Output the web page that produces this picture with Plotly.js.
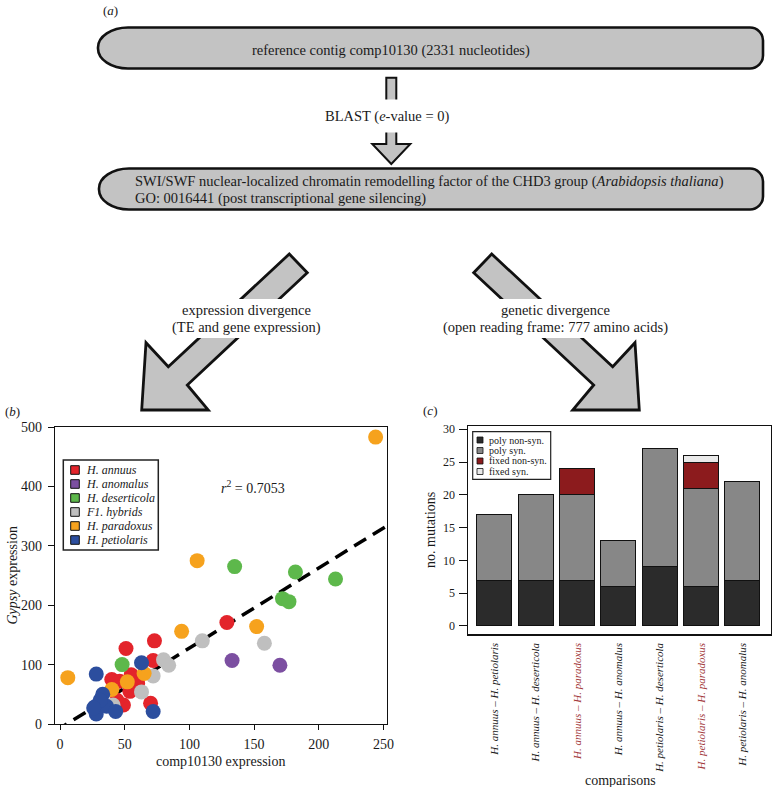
<!DOCTYPE html>
<html><head><meta charset="utf-8">
<script src="https://cdn.plot.ly/plotly-3.0.1.min.js"></script>
<style>html,body{margin:0;padding:0;background:#fff}</style>
</head><body><div id="chart" style="width:773px;height:787px"></div>
<script>
// ---------- panel (b) data ----------
const species = ["H. annuus","H. anomalus","H. deserticola","F1. hybrids","H. paradoxus","H. petiolaris"];
const speciesColors = ["#e3242b","#7c4fa1","#5db84b","#bfbfbf","#f6a21d","#2c4e9e"];
const annuusX = [129, 73, 51, 72, 40, 55, 58, 54, 70, 49, 44, 46, 60];
const annuusY = [171, 140, 127, 107, 75, 83, 76, 55, 35, 32, 40, 72, 68];
const anomalusX = [133, 170];
const anomalusY = [107, 99];
const deserticolaX = [48, 135, 182, 213, 172, 177];
const deserticolaY = [100, 265, 256, 244, 211, 206];
const hybridsX = [110, 158, 80, 84, 72, 63, 41];
const hybridsY = [140, 136, 108, 99, 81, 54, 32];
const paradoxusX = [244, 106, 94, 152, 6, 52, 65, 40];
const paradoxusY = [483, 275, 156, 164, 78, 71, 85, 58];
const petiolarisX = [63, 28, 33, 27, 28, 36, 43, 72, 31, 26];
const petiolarisY = [103, 84, 50, 29, 17, 30, 21, 21, 40, 27];
const fitLineX = [-4, 253];
const fitLineY = [-12.4, 334];
const r2Value = "0.7053";
const expTicksX = [0, 50, 100, 150, 200, 250];
const expTicksY = [0, 100, 200, 300, 400, 500];

// ---------- panel (c) data ----------
const comparisons = ["H. annuus – H. petiolaris","H. annuus – H. deserticola","H. annuus – H. paradoxus",
  "H. annuus – H. anomalus","H. petiolaris – H. deserticola","H. petiolaris – H. paradoxus","H. petiolaris – H. anomalus"];
const highlighted = [false, false, true, false, false, true, false];
const polyNonSyn = [7, 7, 7, 6, 9, 6, 7];
const polySyn = [10, 13, 13, 7, 18, 15, 15];
const fixedNonSyn = [0, 0, 4, 0, 0, 4, 0];
const fixedSyn = [0, 0, 0, 0, 0, 1, 0];
const mutationSeries = ["poly non-syn.","poly syn.","fixed non-syn.","fixed syn."];
const mutationColors = ["#2b2b2b","#878787","#8c1b1d","#e9e9e9"];
const mutationTicks = [0, 5, 10, 15, 20, 25, 30];

// ---------- helpers ----------
const W = 773, H = 787;
const F = "Liberation Serif, Times New Roman, serif";
const TXT = "#1a1a1a";
const X = v => v / W, Y = v => 1 - v / H;
function ann(text, x, y, o) {
  o = o || {};
  const font = Object.assign({family: F, size: 14, color: TXT}, o.font || {});
  const a = Object.assign({text, xref: 'paper', yref: 'paper', x: X(x), y: Y(y), showarrow: false,
    xanchor: 'center', yanchor: 'middle'}, o);
  a.font = font;
  return a;
}
function poly(pts) {
  return 'M ' + pts.map(p => X(p[0]) + ',' + Y(p[1])).join(' L ') + ' Z';
}
function roundBox(x0, y0, x1, y1, rl, rr, ryl, ryr) {
  const k = 0.5523;
  const P = (x, y) => X(x) + ',' + Y(y);
  return 'M ' + P(x0 + rl, y0) + ' L ' + P(x1 - rr, y0) +
    ' C ' + P(x1 - rr + k * rr, y0) + ' ' + P(x1, y0 + ryr - k * ryr) + ' ' + P(x1, y0 + ryr) +
    ' L ' + P(x1, y1 - ryr) +
    ' C ' + P(x1, y1 - ryr + k * ryr) + ' ' + P(x1 - rr + k * rr, y1) + ' ' + P(x1 - rr, y1) +
    ' L ' + P(x0 + rl, y1) +
    ' C ' + P(x0 + rl - k * rl, y1) + ' ' + P(x0, y1 - ryl + k * ryl) + ' ' + P(x0, y1 - ryl) +
    ' L ' + P(x0, y0 + ryl) +
    ' C ' + P(x0, y0 + ryl - k * ryl) + ' ' + P(x0 + rl - k * rl, y0) + ' ' + P(x0 + rl, y0) + ' Z';
}
const GREY = "#c3c3c3";
const FS = 14.5;
const shapes = [];
const annotations = [];

// ---------- panel (a) flow chart ----------
shapes.push({type: 'path', xref: 'paper', yref: 'paper', path: roundBox(98, 27.5, 763, 68.5, 30, 13, 20, 13),
  fillcolor: GREY, line: {color: '#111', width: 2.6}});
shapes.push({type: 'path', xref: 'paper', yref: 'paper', path: roundBox(99, 168.5, 763, 209.5, 30, 13, 20, 13),
  fillcolor: GREY, line: {color: '#111', width: 2.6}});
// down arrow
shapes.push({type: 'path', xref: 'paper', yref: 'paper',
  path: poly([[386.3, 77.7], [396.3, 77.7], [396.3, 144], [410.3, 144], [391.3, 164], [372.3, 144], [386.3, 144]]),
  fillcolor: GREY, line: {color: '#111', width: 2}});
// diagonal arrows
shapes.push({type: 'path', xref: 'paper', yref: 'paper',
  path: poly([[289.3, 254], [307.3, 272.7], [187.3, 385], [208.3, 410], [141.7, 410], [146, 342.7], [168.3, 366.7]]),
  fillcolor: GREY, line: {color: '#111', width: 2.8}});
shapes.push({type: 'path', xref: 'paper', yref: 'paper',
  path: poly([[491.7, 254], [473.7, 272.7], [593.7, 385], [572.7, 410], [639.3, 410], [635, 342.7], [612.7, 366.7]]),
  fillcolor: GREY, line: {color: '#111', width: 2.8}});
// white label backgrounds
[[320, 99.5, 455, 132.5], [150, 299, 340, 338], [430, 299, 680, 338]].forEach(r => {
  shapes.push({type: 'rect', xref: 'paper', yref: 'paper', x0: X(r[0]), x1: X(r[2]), y0: Y(r[1]), y1: Y(r[3]),
    fillcolor: '#ffffff', line: {width: 0}});
});

annotations.push(ann("(<i>a</i>)", 110, 10, {font: {size: 13}}));
annotations.push(ann("reference contig comp10130 (2331 nucleotides)", 391, 50, {font: {size: FS}}));
annotations.push(ann("BLAST (<i>e</i>-value = 0)", 387, 116.7, {font: {size: FS}}));
annotations.push(ann("SWI/SWF nuclear-localized chromatin remodelling factor of the CHD3 group (<i>Arabidopsis thaliana</i>)", 133, 181.7, {xanchor: 'left', font: {size: FS}}));
annotations.push(ann("GO: 0016441 (post transcriptional gene silencing)", 133, 198.3, {xanchor: 'left', font: {size: FS}}));
annotations.push(ann("expression divergence", 246.7, 310, {font: {size: FS}}));
annotations.push(ann("(TE and gene expression)", 246.7, 327.3, {font: {size: FS}}));
annotations.push(ann("genetic divergence", 555, 309.5, {font: {size: FS}}));
annotations.push(ann("(open reading frame: 777 amino acids)", 555, 327.3, {font: {size: FS}}));

// ---------- panel (b) ----------
annotations.push(ann("(<i>b</i>)", 12, 411.5, {font: {size: 13}}));
annotations.push(ann("<i>r</i><sup>2</sup> = " + r2Value, 252.5, 487));
annotations.push(ann("<i>Gypsy</i> expression", 12, 575.5, {textangle: -90}));
annotations.push(ann("comp10130 expression", 221, 761.7));

// legend (b)
shapes.push({type: 'rect', xref: 'paper', yref: 'paper', x0: X(63.3), x1: X(158.3), y0: Y(460), y1: Y(550),
  fillcolor: '#ffffff', line: {color: '#222', width: 1.5}});
species.forEach((s, i) => {
  const cy = 470 + i * 14;
  shapes.push({type: 'rect', xref: 'paper', yref: 'paper', x0: X(70.7), x1: X(79.3), y0: Y(cy - 4.3), y1: Y(cy + 4.3),
    fillcolor: speciesColors[i], line: {color: '#111', width: 1}});
  annotations.push(ann("<i>" + s + "</i>", 83.5, cy, {xanchor: 'left', font: {size: 12}}));
});

// ---------- panel (c) ----------
annotations.push(ann("(<i>c</i>)", 430, 410, {font: {size: 13}}));
annotations.push(ann("no. mutations", 430, 530, {textangle: -90}));
annotations.push(ann("comparisons", 620, 780));
shapes.push({type: 'rect', xref: 'paper', yref: 'paper', x0: X(472.7), x1: X(550.7), y0: Y(431.7), y1: Y(479.3),
  fillcolor: '#ffffff', line: {color: '#222', width: 1.2}});
mutationSeries.forEach((s, i) => {
  const cy = 440 + i * 10.5;
  shapes.push({type: 'rect', xref: 'paper', yref: 'paper', x0: X(477), x1: X(483), y0: Y(cy - 3), y1: Y(cy + 3),
    fillcolor: mutationColors[i], line: {color: '#111', width: 0.8}});
  annotations.push(ann(s, 487.5, cy, {xanchor: 'left', font: {size: 10}, borderpad: 0}));
});

// ---------- traces ----------
const pts = [[annuusX, annuusY], [anomalusX, anomalusY], [deserticolaX, deserticolaY],
  [hybridsX, hybridsY], [paradoxusX, paradoxusY], [petiolarisX, petiolarisY]];
const traces = [];
traces.push({x: fitLineX, y: fitLineY, mode: 'lines', xaxis: 'x', yaxis: 'y',
  line: {color: '#000', width: 3.5, dash: '14px,8px'}, hoverinfo: 'skip'});
pts.forEach((p, i) => {
  traces.push({x: p[0], y: p[1], type: 'scatter', mode: 'markers', name: species[i], xaxis: 'x', yaxis: 'y',
    marker: {color: speciesColors[i], size: 15, line: {width: 0}}, cliponaxis: false});
});
const idx = comparisons.map((c, i) => i);
[polyNonSyn, polySyn, fixedNonSyn, fixedSyn].forEach((vals, i) => {
  traces.push({x: idx, y: vals.map(v => v === 0 ? null : v), type: 'bar', name: mutationSeries[i],
    xaxis: 'x2', yaxis: 'y2', width: 0.845,
    marker: {color: mutationColors[i], line: {color: '#111', width: 1}}});
});

const tickLabels = comparisons.map((c, i) => highlighted[i] ? '<span style="color:#a33a3c">' + c + '</span>' : c);

const layout = {
  width: W, height: H, margin: {l: 0, r: 0, t: 0, b: 0},
  paper_bgcolor: '#fff', plot_bgcolor: '#fff', showlegend: false, barmode: 'stack',
  font: {family: F, color: TXT},
  xaxis: {domain: [X(55), X(387)], anchor: 'y', range: [-3.9, 252.8], tickvals: expTicksX,
    showgrid: false, zeroline: false, showline: true, mirror: true, linecolor: '#111', linewidth: 1.2,
    ticks: 'outside', ticklen: 5, tickcolor: '#111', tickfont: {family: F, size: 14, color: TXT}, ticklabelstandoff: 2},
  yaxis: {domain: [Y(724), Y(427)], anchor: 'x', range: [0, 500], tickvals: expTicksY,
    showgrid: false, zeroline: false, showline: true, mirror: true, linecolor: '#111', linewidth: 1.2,
    ticks: 'outside', ticklen: 6, tickcolor: '#111', tickfont: {family: F, size: 14, color: TXT}, ticklabelstandoff: 3},
  xaxis2: {domain: [X(467.7), X(771)], anchor: 'y2', range: [-0.64, 6.69], tickvals: idx, ticktext: tickLabels,
    tickangle: -90, showgrid: false, zeroline: false, showline: true, mirror: true, linecolor: '#111', linewidth: 1.2,
    ticks: '', tickfont: {family: F, size: 11, color: TXT, style: 'italic'}, ticklabelstandoff: 3},
  yaxis2: {domain: [Y(634.3), Y(426)], anchor: 'x2', range: [-1.27, 30.5], tickvals: mutationTicks,
    showgrid: false, zeroline: false, showline: true, mirror: true, linecolor: '#111', linewidth: 1.2,
    ticks: 'outside', ticklen: 8, tickcolor: '#111', tickfont: {family: F, size: 12, color: TXT}, ticklabelstandoff: 1},
  shapes: shapes,
  annotations: annotations
};
Plotly.newPlot('chart', traces, layout, {displayModeBar: false, staticPlot: true});
</script></body></html>
